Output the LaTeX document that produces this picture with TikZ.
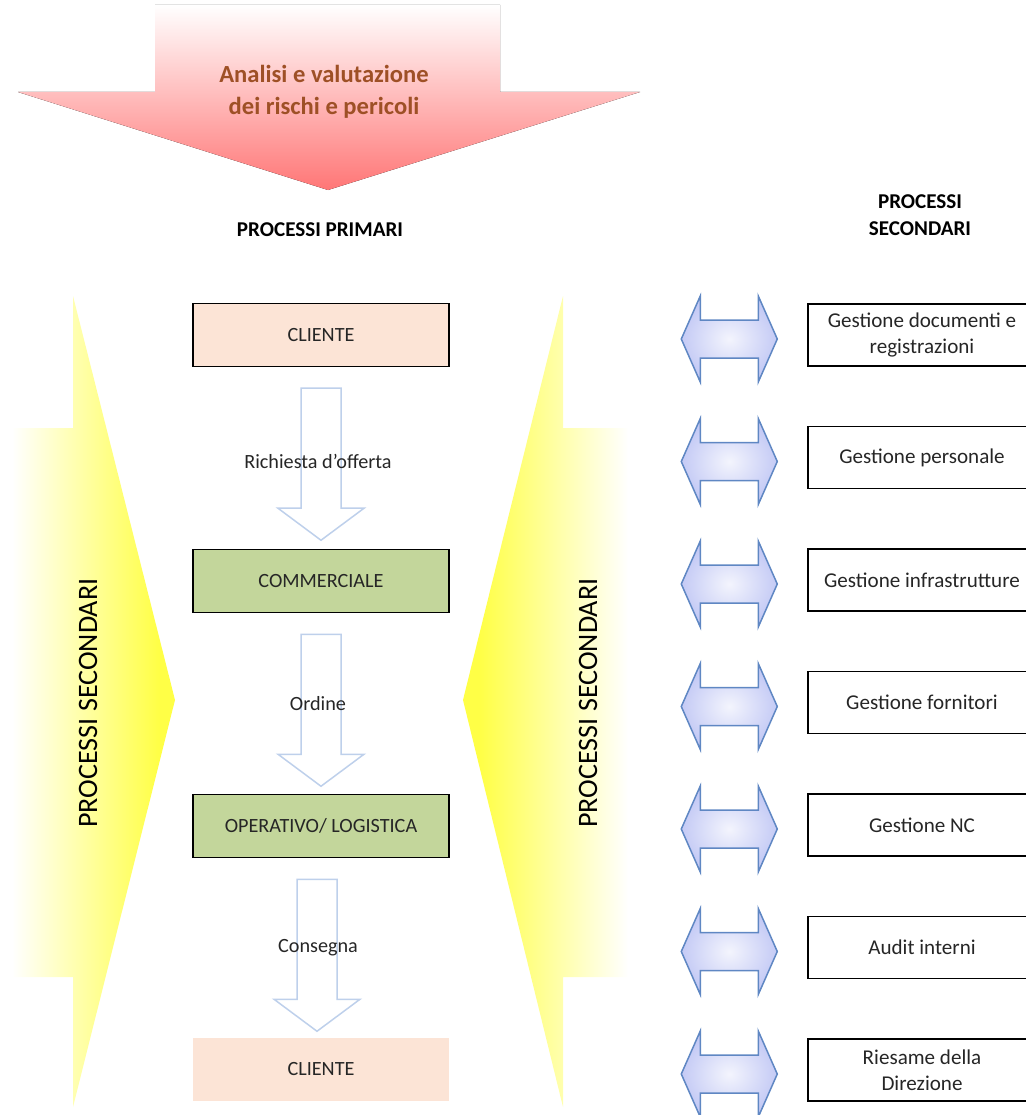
\documentclass[tikz,border=0pt]{standalone}
\usepackage{fontspec}
\setmainfont{Carlito}
\usetikzlibrary{positioning,calc}
\definecolor{peachCol}{RGB}{252,228,214}
\definecolor{greenCol}{RGB}{195,214,155}
\definecolor{yelCol}{RGB}{255,255,70}
\definecolor{pinkCol}{RGB}{255,118,118}
\definecolor{brownCol}{RGB}{158,80,38}
\definecolor{paleBlue}{RGB}{190,208,235}
\definecolor{lineBlue}{RGB}{95,135,195}
\definecolor{lavCol}{RGB}{196,202,245}
\pgfdeclarehorizontalshading{fadeRight}{100bp}{color(0bp)=(white); color(25bp)=(white); color(70bp)=(yelCol); color(100bp)=(yelCol)}
\pgfdeclarehorizontalshading{fadeLeft}{100bp}{color(0bp)=(yelCol); color(30bp)=(yelCol); color(75bp)=(white); color(100bp)=(white)}
\tikzset{primBox/.style={draw=black, line width=0.3mm, minimum width=5.12cm, minimum height=1.26cm, text=black!85, font=\fontsize{11.5}{14}\selectfont}}
\tikzset{secBox/.style={draw=black, line width=0.3mm, minimum width=4.56cm, minimum height=1.24cm, align=center, text=black!85, font=\fontsize{12}{14.5}\selectfont}}
\tikzset{flowLbl/.style={font=\fontsize{11.5}{14}\selectfont, text=black!85}}
\tikzset{hollowArr/.style={draw=paleBlue, line width=0.3mm, fill=white}}
\tikzset{dblArr/.style={draw=lineBlue, line width=0.3mm, inner color=white!80!lavCol, outer color=lavCol}}
\tikzset{pics/downArr/.style={code={\draw[hollowArr] (-20,0) -- (20,0) -- (20,120) -- (43,120) -- (0,152) -- (-43,120) -- (-20,120) -- cycle;}}}
\tikzset{pics/bothArr/.style={code={\draw[dblArr] (-48,0) -- (-29,-43) -- (-29,-19) -- (29,-19) -- (29,-43) -- (48,0) -- (29,43) -- (29,19) -- (-29,19) -- (-29,43) -- cycle;}}}

\begin{document}
\begin{tikzpicture}[x=0.02cm, y=-0.02cm]
	\useasboundingbox (0,0) rectangle (1026,1115);
	% top arrow
	\fill[top color=white, bottom color=pinkCol] (155,5) -- (500,5) -- (500,92) -- (640,92) -- (328,190) -- (18,92) -- (155,92) -- cycle;
	\node[font=\bfseries\fontsize{14}{18}\selectfont, text=brownCol, align=center] (risk) at (324,92) {Analisi e valutazione\\dei rischi e pericoli};
	
	% yellow side arrows
	\shade[shading=fadeRight] (12,428) -- (73,428) -- (73,296) -- (175,700) -- (73,1107) -- (73,977) -- (12,977) -- cycle;
	\shade[shading=fadeLeft] (628,428) -- (563,428) -- (563,296) -- (463,700) -- (563,1107) -- (563,977) -- (628,977) -- cycle;
	\node[rotate=90, font=\fontsize{16}{19}\selectfont] (secL) at (88,703) {PROCESSI SECONDARI};
	\node[rotate=90, font=\fontsize{16}{19}\selectfont] (secR) at (588,703) {PROCESSI SECONDARI};
	
	\node[font=\bfseries\fontsize{12}{15}\selectfont] (prim) at (320,230) {PROCESSI PRIMARI};
	\node[font=\bfseries\fontsize{12}{15}\selectfont, align=center] (secT) at (920,215) {PROCESSI\\SECONDARI};
	
	% primary flow
	\node[primBox, fill=peachCol] (cli1) at (321,335) {CLIENTE};
	\node[primBox, fill=greenCol] (comm) at (321,581) {COMMERCIALE};
	\node[primBox, fill=greenCol] (oper) at (321,826) {OPERATIVO/ LOGISTICA};
	\node[primBox, fill=peachCol, draw=none] (cli2) at (321,1069) {CLIENTE};
	
	\pic at ($(cli1.south)+(0,21)$) {downArr};
	\pic at ($(comm.south)+(0,21)$) {downArr};
	\pic at ($(oper.south)+(-4,21)$) {downArr};
	\node[flowLbl] (lbl1) at ($(cli1.south)!0.5!(comm.north)+(-3,3)$) {Richiesta d'offerta};
	\node[flowLbl] (lbl2) at ($(comm.south)!0.5!(oper.north)+(-3,0)$) {Ordine};
	\node[flowLbl] (lbl3) at ($(oper.south)!0.5!(cli2.north)+(-3,0)$) {Consegna};
	
	% secondary processes
	\foreach \txt [count=\i] in {{Gestione documenti e\\registrazioni}, {Gestione personale}, {Gestione infrastrutture}, {Gestione fornitori}, {Gestione NC}, {Audit interni}, {Riesame della\\Direzione}}{
		\node[secBox] (sec\i) at (922,{335+122.5*(\i-1)}) {\txt};
		\pic at ($(sec\i.west)+(-78,4)$) {bothArr};
	}
\end{tikzpicture}
\end{document}
